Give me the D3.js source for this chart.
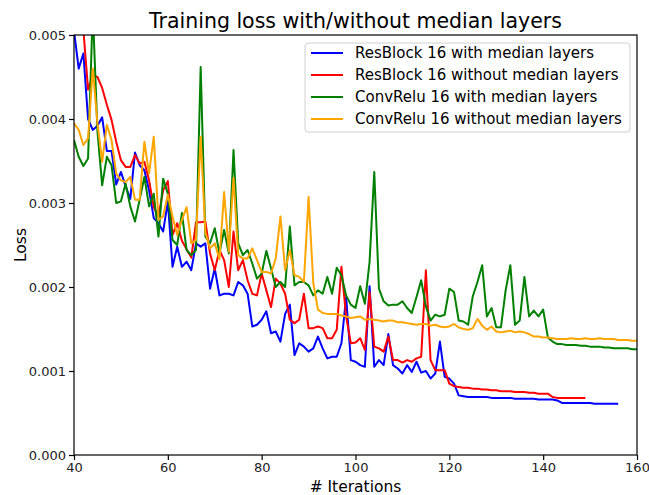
<!DOCTYPE html>
<html>
<head>
<meta charset="utf-8">
<script src="https://d3js.org/d3.v7.min.js"></script>
<style>
  body { margin: 0; background: #fff; }
  text { font-family: "DejaVu Sans", sans-serif; fill: #000; }
</style>
</head>
<body>
<svg id="chart"></svg>
<script>
// Loss values, in units of 1e-3, one per iteration from 40
var startIter = 40;

var resMedian = [5.05, 4.6, 4.78, 4.0, 3.87, 3.92, 4.02, 3.62, 3.62, 3.22,
  3.37, 3.2, 3.05, 3.6, 3.45, 3.39, 3.15, 2.82, 2.76, 2.66,
  3.02, 2.24, 2.48, 2.24, 2.3, 2.2, 2.52, 2.48, 2.52, 1.98,
  2.22, 1.9, 1.92, 1.92, 1.9, 2.06, 2.02, 1.92, 1.53, 1.55,
  1.61, 1.71, 1.45, 1.47, 1.35, 1.68, 1.79, 1.19, 1.33, 1.29,
  1.23, 1.27, 1.41, 1.27, 1.15, 1.17, 1.17, 1.33, 1.88, 1.13,
  1.11, 1.07, 1.05, 2.01, 1.05, 1.13, 1.07, 1.44, 1.07, 1.03,
  0.97, 1.07, 0.99, 1.11, 0.98, 1.0, 0.91, 0.97, 1.35, 0.93,
  0.91, 0.85, 0.71, 0.70, 0.69, 0.69, 0.69, 0.69, 0.69, 0.68,
  0.68, 0.68, 0.68, 0.68, 0.67, 0.67, 0.67, 0.67, 0.67, 0.66,
  0.66, 0.66, 0.66, 0.65, 0.62, 0.62, 0.62, 0.62, 0.62, 0.62,
  0.62, 0.61, 0.61, 0.61, 0.61, 0.61, 0.61];

var resNoMedian = [5.8, 5.4, 5.06, 4.35, 4.52, 4.5, 4.37, 4.17, 3.99, 3.73,
  3.51, 3.43, 3.43, 3.57, 3.47, 3.49, 3.27, 2.95, 2.84, 3.15,
  3.26, 2.62, 2.76, 2.55, 2.45, 2.35, 2.77, 2.77, 2.78, 2.4,
  2.2, 2.44, 2.32, 2.0, 2.66, 2.2, 2.32, 2.08, 1.92, 1.9,
  2.16, 1.96, 1.76, 2.1, 2.04, 1.92, 1.61, 1.57, 1.61, 1.92,
  1.51, 1.51, 1.53, 1.51, 1.39, 1.39, 1.49, 2.24, 1.65, 1.33,
  1.34, 1.39, 1.25, 1.94, 1.29, 1.27, 1.23, 1.41, 1.13, 1.13,
  1.1, 1.13, 1.11, 1.15, 1.17, 2.2, 1.13, 1.01, 1.01, 1.01,
  0.85, 0.82, 0.81, 0.8, 0.8, 0.79, 0.79, 0.78, 0.78, 0.77,
  0.77, 0.76, 0.76, 0.76, 0.75, 0.75, 0.75, 0.74, 0.74, 0.73,
  0.73, 0.73, 0.69, 0.68, 0.68, 0.68, 0.68, 0.68, 0.68, 0.68];

var convMedian = [3.75, 3.55, 3.44, 3.53, 5.3, 3.85, 3.21, 3.55, 3.45, 3.0,
  3.02, 3.23, 2.96, 2.78, 3.04, 3.31, 2.96, 3.11, 2.6, 3.29,
  3.11, 2.56, 2.5, 2.88, 2.44, 2.38, 2.44, 4.62, 2.6, 2.52,
  2.7, 2.4, 2.68, 2.4, 3.63, 2.52, 2.38, 2.44, 2.28, 2.1,
  2.16, 2.43, 2.22, 2.0, 2.06, 2.0, 2.72, 2.02, 2.06, 2.06,
  2.02, 1.9, 1.96, 1.92, 2.12, 1.92, 2.23, 2.14, 1.9, 1.79,
  1.75, 2.01, 1.8, 2.3, 3.37, 1.98, 1.83, 1.78, 1.79, 1.79,
  1.83, 1.75, 1.69, 1.88, 2.08, 1.77, 1.6, 1.67, 1.65, 1.67,
  1.98, 1.94, 1.6, 1.59, 1.55, 1.89, 2.06, 2.26, 1.65, 1.75,
  1.52, 1.52, 1.96, 2.26, 1.55, 1.6, 2.12, 1.65, 1.72, 1.65,
  1.73, 1.4, 1.35, 1.32, 1.32, 1.31, 1.31, 1.31, 1.30, 1.30,
  1.29, 1.29, 1.29, 1.28, 1.28, 1.27, 1.27, 1.27, 1.27, 1.26,
  1.26];

var convNoMedian = [3.95, 3.87, 3.69, 3.77, 4.6, 3.95, 3.49, 3.93, 3.75, 3.35,
  3.27, 3.25, 3.31, 3.04, 3.04, 3.73, 3.35, 3.79, 2.8, 2.84,
  3.1, 2.84, 2.62, 2.8, 2.95, 2.52, 2.56, 3.79, 2.65, 2.46,
  2.52, 2.33, 3.13, 2.42, 3.3, 2.38, 2.34, 2.34, 2.46, 2.32,
  2.18, 2.18, 2.16, 2.34, 2.84, 2.2, 2.44, 2.14, 2.12, 2.06,
  3.07, 2.05, 1.73, 1.69, 1.68, 1.68, 1.68, 1.66, 1.65, 1.63,
  1.64, 1.65, 1.61, 1.62, 1.61, 1.60, 1.59, 1.6, 1.6, 1.58,
  1.58, 1.57, 1.56, 1.55, 1.56, 1.56, 1.54, 1.55, 1.53, 1.52,
  1.53, 1.56, 1.52, 1.5, 1.49, 1.51, 1.62, 1.54, 1.49, 1.53,
  1.47, 1.46, 1.47, 1.48, 1.46, 1.47, 1.46, 1.44, 1.41, 1.41,
  1.4, 1.4, 1.39, 1.38, 1.38, 1.38, 1.39, 1.38, 1.38, 1.39,
  1.38, 1.38, 1.39, 1.38, 1.38, 1.38, 1.37, 1.37, 1.37, 1.36,
  1.36];

var seriesNames = ["ResBlock 16 with median layers", "ResBlock 16 without median layers",
  "ConvRelu 16 with median layers", "ConvRelu 16 without median layers"];
var seriesColors = ["blue", "red", "green", "orange"];
var xTicks = [40, 60, 80, 100, 120, 140, 160];
var yTicks = [0, 0.001, 0.002, 0.003, 0.004, 0.005];

var allSeries = [resMedian, resNoMedian, convMedian, convNoMedian].map(function(vals, i) {
  return {
    name: seriesNames[i],
    color: seriesColors[i],
    points: vals.map(function(v, j) { return [startIter + j, v / 1000]; })
  };
});

// Set the dimensions and margins of the SVG
var margin = { top: 35, right: 12, bottom: 40, left: 74 },
  width = 649 - margin.left - margin.right,
  height = 495 - margin.top - margin.bottom;

var root = d3.select("#chart")
  .attr("width", 649)
  .attr("height", 495);

var svg = root.append("g")
  .attr("transform", "translate(" + margin.left + "," + margin.top + ")");

var x = d3.scaleLinear().domain([40, 160]).range([0, width]);
var y = d3.scaleLinear().domain([0, 0.005]).range([height, 0]);

svg.append("clipPath")
  .attr("id", "plotclip")
  .append("rect")
  .attr("width", width)
  .attr("height", height);

var line = d3.line()
  .x(function(d) { return x(d[0]); })
  .y(function(d) { return y(d[1]); });

// Loss curves
svg.append("g")
  .attr("clip-path", "url(#plotclip)")
  .selectAll("path")
  .data(allSeries)
  .enter().append("path")
  .attr("d", function(d) { return line(d.points); })
  .style("fill", "none")
  .style("stroke", function(d) { return d.color; })
  .style("stroke-width", 2)
  .style("stroke-linejoin", "round");

// Axes
var xAxis = svg.append("g")
  .attr("transform", "translate(0," + height + ")")
  .call(d3.axisBottom(x).tickValues(xTicks).tickSize(5).tickPadding(3).tickSizeOuter(0));
var yAxis = svg.append("g")
  .call(d3.axisLeft(y).tickValues(yTicks).tickFormat(d3.format(".3f")).tickSize(5).tickPadding(3).tickSizeOuter(0));

[xAxis, yAxis].forEach(function(a) {
  a.select(".domain").remove();
  a.selectAll("line").style("stroke", "#000").style("stroke-width", 1.2);
  a.selectAll("text").style("font-size", "13px").style("fill", "#222");
});

// Frame round the plot
svg.append("rect")
  .attr("width", width)
  .attr("height", height)
  .style("fill", "none")
  .style("stroke", "#000")
  .style("stroke-width", 1.2);

// Titles
root.append("text")
  .attr("x", margin.left + width / 2)
  .attr("y", 28)
  .attr("text-anchor", "middle")
  .style("font-size", "20.5px")
  .text("Training loss with/without median layers");

root.append("text")
  .attr("x", margin.left + width / 2)
  .attr("y", 492)
  .attr("text-anchor", "middle")
  .style("font-size", "15.5px")
  .text("# Iterations");

root.append("text")
  .attr("transform", "translate(26," + (margin.top + height / 2) + ") rotate(-90)")
  .attr("text-anchor", "middle")
  .style("font-size", "15.5px")
  .text("Loss");

// Legend
var legend = root.append("g").attr("transform", "translate(305,43)");
legend.append("rect")
  .attr("width", 325)
  .attr("height", 89)
  .attr("rx", 3)
  .style("fill", "#fff")
  .style("fill-opacity", 0.8)
  .style("stroke", "#d0d0d0");

var rows = legend.selectAll(".row")
  .data(allSeries)
  .enter().append("g")
  .attr("transform", function(d, i) { return "translate(0," + (10 + i * 22) + ")"; });

rows.append("line")
  .attr("x1", 6).attr("x2", 38)
  .style("stroke", function(d) { return d.color; })
  .style("stroke-width", 2);

rows.append("text")
  .attr("x", 50)
  .attr("dy", "0.35em")
  .style("font-size", "15px")
  .text(function(d) { return d.name; });
</script>
</body>
</html>
